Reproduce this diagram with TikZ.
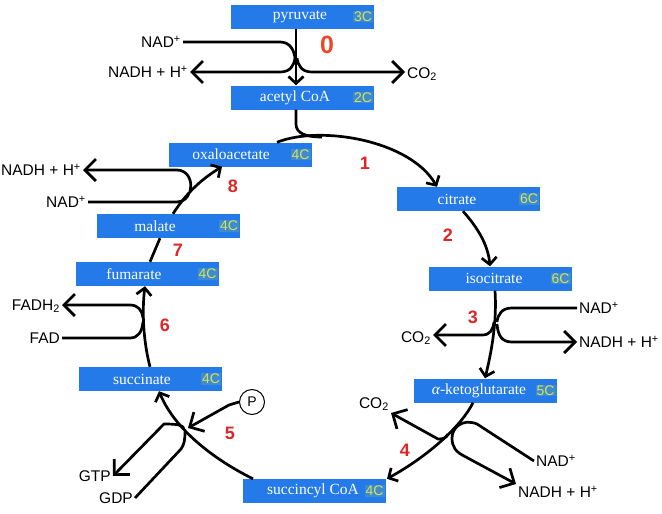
\documentclass[tikz,border=0pt]{standalone}
\usepackage{fontspec}
\setmainfont{Liberation Sans}
\newfontfamily\boxfont{Liberation Serif}
\usetikzlibrary{arrows.meta}
\definecolor{boxblue}{RGB}{35,122,232}
\definecolor{tagbg}{RGB}{62,140,205}
\definecolor{tagtx}{RGB}{214,226,90}
\definecolor{numred}{RGB}{222,38,38}
\definecolor{zeroc}{RGB}{236,72,40}
\begin{document}
\begin{tikzpicture}[x=1pt,y=-1pt,
  box/.style={fill=boxblue,minimum width=143pt,minimum height=24pt,inner sep=0pt},
  nm/.style={text=white,font=\boxfont\fontsize{15.5}{16}\selectfont,inner sep=0pt},
  tag/.style={text=tagtx,fill=tagbg,font=\fontsize{14}{14}\selectfont,inner sep=1pt},
  lbl/.style={font=\fontsize{15.5}{16}\selectfont,inner sep=2pt},
  num/.style={text=numred,font=\bfseries\fontsize{18}{18}\selectfont,inner sep=0pt},
  ln/.style={line width=2.7pt,line join=round},
  bigarr/.style={ln,-{Straight Barb[length=11pt,width=22pt]}},
  cyc/.style={ln,-{Straight Barb[length=7pt,width=15pt]}},
]
\useasboundingbox (0,0) rectangle (662,514);
\fill[white] (0,0) rectangle (662,514);

% boxes
\node[box] (pyr)  at (302.5,16.5) {};
\node[box] (acoa) at (302.5,97.5) {};
\node[box] (oxa)  at (240,154.5) {};
\node[box] (cit)  at (468.5,199) {};
\node[box] (iso)  at (500,278.5) {};
\node[box] (akg)  at (485,390.5) {};
\node[box] (sca)  at (314,491) {};
\node[box] (suc)  at (150.5,379) {};
\node[box] (fum)  at (147,274) {};
\node[box] (mal)  at (168.5,226) {};

\node[nm] (pyrN)  at (300,16.5) {pyruvate};
\node[nm] (acoaN) at (295,97.5) {acetyl CoA};
\node[nm] (oxaN)  at (231,154.5) {oxaloacetate};
\node[nm] (citN)  at (457,199) {citrate};
\node[nm] (isoN)  at (494,278.5) {isocitrate};
\node[nm] (akgN)  at (479,390.5) {{\itshape α}-ketoglutarate};
\node[nm] (scaN)  at (313,491) {succincyl CoA};
\node[nm] (sucN)  at (142,379) {succinate};
\node[nm] (fumN)  at (134,274) {fumarate};
\node[nm] (malN)  at (155,226) {malate};

\node[tag,anchor=east] (pyrC) at ([xshift=-1pt]pyr.east) {3C};
\node[tag,anchor=east] (acoaC) at ([xshift=-1pt]acoa.east) {2C};
\node[tag,anchor=east] (oxaC) at ([xshift=-1pt]oxa.east) {4C};
\node[tag,anchor=east] (citC) at ([xshift=-1pt]cit.east) {6C};
\node[tag,anchor=east] (isoC) at ([xshift=-1pt]iso.east) {6C};
\node[tag,anchor=east] (akgC) at ([xshift=-1pt]akg.east) {5C};
\node[tag,anchor=east] (scaC) at ([xshift=-1pt]sca.east) {4C};
\node[tag,anchor=east] (sucC) at ([xshift=-1pt]suc.east) {4C};
\node[tag,anchor=east] (fumC) at ([xshift=-1pt]fum.east) {4C};
\node[tag,anchor=east] (malC) at ([xshift=-1pt]mal.east) {4C};

% side labels
\node[lbl,anchor=east] (nad0) at (183,42) {NAD\textsuperscript{+}};
\node[lbl,anchor=east] (nadh0) at (190,72) {NADH + H\textsuperscript{+}};
\node[lbl,anchor=west] (co20) at (405,74) {CO\textsubscript{2}};
\node[lbl,anchor=west] (nad3) at (577,308) {NAD\textsuperscript{+}};
\node[lbl,anchor=west] (nadh3) at (577,342) {NADH + H\textsuperscript{+}};
\node[lbl,anchor=east] (co23) at (433,338) {CO\textsubscript{2}};
\node[lbl,anchor=south east] (co24) at (391,413) {CO\textsubscript{2}};
\node[lbl,anchor=west] (nad4) at (534,461) {NAD\textsuperscript{+}};
\node[lbl,anchor=north west] (nadh4) at (516,484) {NADH + H\textsuperscript{+}};
\node[draw,circle,line width=1pt,minimum size=25pt,inner sep=0pt,font=\fontsize{14}{14}\selectfont] (pc) at (252,402) {P};
\node[lbl,anchor=east] (gtp) at (113,476) {GTP};
\node[lbl,anchor=east] (gdp) at (135,498) {GDP};
\node[lbl,anchor=east] (fadh2) at (62,306) {FADH\textsubscript{2}};
\node[lbl,anchor=east] (fad) at (62,338) {FAD};
\node[lbl,anchor=east] (nadh8) at (83,170) {NADH + H\textsuperscript{+}};
\node[lbl,anchor=east] (nad8) at (88,202) {NAD\textsuperscript{+}};

% step numbers
\node[text=zeroc,font=\bfseries\fontsize{25}{25}\selectfont,inner sep=0pt] (n0) at (327,45) {0};
\node[num] (n1) at (365,163) {1};
\node[num] (n2) at (448,235) {2};
\node[num] (n3) at (473,317) {3};
\node[num] (n4) at (405,450) {4};
\node[num] (n5) at (230,433) {5};
\node[num] (n6) at (165,325) {6};
\node[num] (n7) at (178,250) {7};
\node[num] (n8) at (233,186) {8};

% reaction 0
\draw[cyc] ([xshift=-6.5pt]pyr.south) -- ([xshift=-6.5pt]acoa.north);
\draw[ln] (nad0.east) -- (280,42) .. controls (290,42) and (294,50) .. (295,58);
\draw[bigarr] (295,58) .. controls (294,66) and (290,72) .. (280,72) -- (nadh0.east);
\draw[bigarr] (297,58) .. controls (298,66) and (302,72) .. (312,72) -- (co20.west |- 0,72);

% reaction 1
\draw[ln] ([xshift=-6.5pt]acoa.south) -- (296,124) .. controls (296,133) and (305,137) .. (322,137);
\draw[cyc] ([xshift=37pt]oxa.north) .. controls (320,125) and (410,140) .. ([xshift=-31.5pt]cit.north);

% reaction 2
\draw[cyc] ([xshift=-5.5pt]cit.south) .. controls (478,228) and (488,245) .. ([xshift=-10pt]iso.north);

% reaction 3
\draw[cyc] ([xshift=-5pt]iso.south) .. controls (497,320) and (492,350) .. (akg.north);
\draw[ln] (nad3.west) -- (512,308) .. controls (502,308) and (498,314) .. (497,322);
\draw[bigarr] (497,324) .. controls (498,336) and (502,342) .. (512,342) -- (nadh3.west);
\draw[bigarr] (494,322) .. controls (493,330) and (490,335) .. (482,335) -- (co23.east |- 0,335);

% reaction 4
\draw[cyc] ([xshift=-12pt]akg.south) .. controls (462,425) and (430,455) .. ([xshift=73pt]sca.north);
\draw[ln] (nad4.west) -- (477,424) .. controls (462,418) and (452,428) .. (452,438);
\draw[bigarr] (452,438) .. controls (452,447) and (456,452) .. (464,456) -- (nadh4.north west);
\draw[bigarr] (448,434) .. controls (446,438) and (444,439) .. (438,439) -- (co24.south east);

% reaction 5
\draw[cyc] ([xshift=-61pt]sca.north) .. controls (215,460) and (175,430) .. ([xshift=8.5pt]suc.south);
\draw[bigarr] (pc.west) -- (229,405) -- (188,428);
\draw[bigarr] (184,429) .. controls (183,425) and (178,424) .. (164,424) -- (gtp.east);
\draw[ln] (gdp.east) -- (181,449) .. controls (184,445) and (185,440) .. (185,432);

% reaction 6
\draw[cyc] ([xshift=-0.5pt]suc.north) .. controls (143,340) and (142,310) .. ([xshift=-2pt]fum.south);
\draw[ln] (fad.east) -- (130,338) .. controls (138,338) and (142,332) .. (143,322);
\draw[bigarr] (143,318) .. controls (142,310) and (138,305) .. (130,305) -- (fadh2.east |- 0,305);

% reaction 7
\draw[ln] ([xshift=3pt]fum.north) -- ([xshift=-8.5pt]mal.south);

% reaction 8
\draw[cyc] ([xshift=4.5pt]mal.north) .. controls (185,195) and (200,180) .. ([xshift=-18pt]oxa.south);
\draw[ln] (nad8.east) -- (177,202) .. controls (184,202) and (188,197) .. (189,193);
\draw[bigarr] (190,191) .. controls (193,180) and (187,170) .. (177,170) -- (nadh8.east);
\end{tikzpicture}
\end{document}
